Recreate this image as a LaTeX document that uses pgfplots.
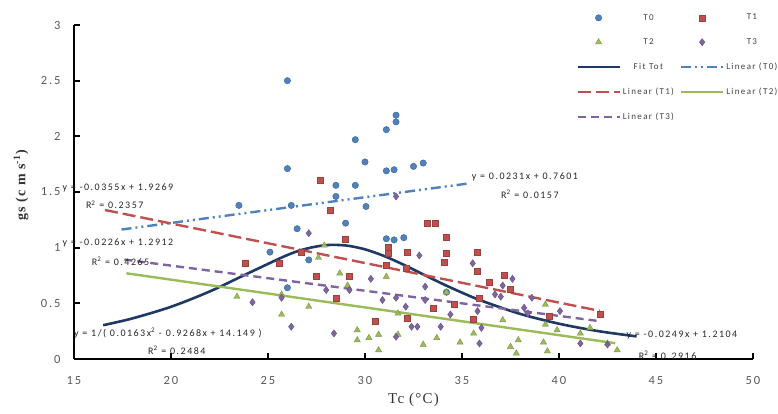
\documentclass[border=0pt]{standalone}
\usepackage{pgfplots}
\pgfplotsset{compat=1.18}
\usepackage{fontspec}
\setmainfont{Liberation Serif}
\newfontfamily\cf[LetterSpace=15]{Carlito}
\newfontfamily\lsf[LetterSpace=8]{Liberation Serif}
\definecolor{cT0}{HTML}{4F81BD}
\definecolor{cT1}{HTML}{C0504D}
\definecolor{cT2}{HTML}{9BBB59}
\definecolor{cT3}{HTML}{8064A2}
\definecolor{cFit}{HTML}{1F3864}
\definecolor{tickgray}{HTML}{595959}
\begin{document}
\begin{tikzpicture}
\path[use as bounding box] (-74pt,-54pt) rectangle (704pt,359pt);
\begin{axis}[
  at={(0,0)}, anchor=south west, scale only axis, width=679pt, height=334pt,
  xmin=15, xmax=50, ymin=0, ymax=3,
  xtick={15,20,...,50}, ytick={0,0.5,...,3},
  axis x line*=bottom, axis y line*=left,
  axis line style={line width=1.8pt, black, -},
  tick style={line width=1.8pt, black}, major tick length=6pt, tick align=inside,
  /pgf/number format/assume math mode=true,
  tick label style={font=\fontsize{12.5}{14}\cf, text=tickgray},
  xticklabel style={yshift=-14pt},
  yticklabel style={xshift=-10pt},
  xlabel={Tc (°C)},
  ylabel={\bfseries gs (c m s\textsuperscript{-1})},
  xlabel style={font=\fontsize{15}{17}\lsf, text=black!80, at={(axis description cs:0.5,-0.123)}, anchor=center},
  ylabel style={font=\fontsize{14}{16}\lsf, text=black!80, at={(axis description cs:-0.078,0.52)}, anchor=center},
  clip=false,
  legend columns=2,
  legend style={at={(axis description cs:0.735,1.045)}, anchor=north west, draw=none, fill=none,
    font=\fontsize{9}{10}\cf, text=black!75, row sep=13pt,
    /tikz/every even column/.append style={column sep=4pt}},
  legend image code/.code={\draw[mark repeat=2,mark phase=2,#1] plot coordinates {(0pt,0pt) (21pt,0pt) (42pt,0pt)};},
]
% T0
\addplot[only marks, mark=*, mark size=3.2pt, draw=cT0!75!black, fill=cT0] coordinates {
(23.5,1.38) (26.0,2.50) (26.0,1.71) (26.2,1.38) (26.0,0.64) (25.1,0.96) (26.5,1.17) (27.1,0.89)
(28.5,1.56) (28.5,1.46) (29.0,1.22) (29.5,1.97) (29.5,1.56) (30.0,1.77) (30.05,1.37) (31.1,2.06)
(31.6,2.19) (31.6,2.13) (31.1,1.69) (31.5,1.70) (32.5,1.73) (33.0,1.76) (31.1,1.08) (31.5,1.07)
(32.0,1.09) (34.2,0.60)};
\addlegendentry{T0}
% T1
\addplot[only marks, mark=square*, mark size=3pt, draw=cT1!80!black, fill=cT1] coordinates {
(27.7,1.61) (28.2,1.34) (29.0,1.08) (26.7,0.96) (25.6,0.86) (23.8,0.86) (27.5,0.74) (28.5,0.55)
(33.2,1.22) (33.6,1.22) (31.2,1.00) (31.2,0.95) (32.2,0.96) (34.2,1.09) (34.2,0.95) (34.1,0.87)
(29.2,0.74) (31.1,0.84) (32.1,0.82) (33.5,0.46) (32.2,0.37) (30.5,0.34) (34.6,0.49) (35.8,0.96)
(35.8,0.79) (37.2,0.75) (36.4,0.69) (35.9,0.55) (35.6,0.36) (39.5,0.38) (42.1,0.40) (37.5,0.63)};
\addlegendentry{T1}
% T2
\addplot[only marks, mark=triangle*, mark size=3.6pt, draw=cT2!80!black, fill=cT2] coordinates {
(23.4,0.56) (25.7,0.58) (25.7,0.40) (27.1,0.47) (27.9,1.02) (27.6,0.91) (28.7,0.77) (31.1,0.74)
(29.1,0.66) (29.6,0.26) (29.6,0.17) (30.2,0.19) (30.7,0.22) (30.7,0.08) (31.7,0.22) (31.7,0.41)
(33.0,0.13) (33.7,0.19) (34.9,0.15) (34.2,0.60) (35.6,0.23) (37.1,0.35) (37.9,0.17) (37.8,0.05)
(37.5,0.11) (39.3,0.49) (39.3,0.31) (39.2,0.15) (39.4,0.07) (39.9,0.26) (41.1,0.23) (41.6,0.28)
(42.5,0.14) (43.0,0.08)};
\addlegendentry{T2}
% T3
\addplot[only marks, mark=diamond*, mark size=3.6pt, draw=cT3!80!black, fill=cT3] coordinates {
(27.1,1.13) (24.2,0.51) (25.7,0.55) (26.2,0.29) (28.4,0.23) (28.0,0.62) (31.6,1.46) (32.8,0.93)
(30.3,0.72) (30.9,0.53) (31.6,0.55) (32.1,0.47) (32.4,0.29) (32.7,0.29) (31.6,0.20) (33.1,0.65)
(33.9,0.29) (34.4,0.40) (35.55,0.86) (37.1,0.66) (37.6,0.72) (36.7,0.58) (37.0,0.56) (35.8,0.43)
(36.0,0.28) (35.9,0.14) (38.2,0.46) (38.6,0.55) (38.4,0.41) (40.05,0.43) (41.1,0.14) (42.5,0.13)
(33.1,0.53) (29.2,0.62)};
\addlegendentry{T3}
% Fit Tot
\addplot[cFit, line width=2.6pt, smooth] coordinates {
(16.5,0.3035) (18,0.364) (20,0.469) (22,0.607) (24,0.772) (26,0.934) (27,0.992) (28,1.023)
(29,1.020) (30,0.985) (31,0.924) (32,0.846) (33,0.760) (34,0.675) (35,0.596) (36,0.524)
(38,0.405) (40,0.317) (42,0.251) (44,0.203)};
\addlegendentry{Fit Tot}
% Linear T0
\addplot[cT0, line width=2.4pt, dash pattern=on 10pt off 4pt on 2pt off 4pt on 2pt off 4pt] coordinates {(17.45,1.163) (35.4,1.578)};
\addlegendentry{Linear (T0)}
% Linear T1
\addplot[cT1, line width=2.4pt, dash pattern=on 13pt off 5pt] coordinates {(16.6,1.338) (42.1,0.432)};
\addlegendentry{Linear (T1)}
% Linear T2
\addplot[cT2, line width=2.4pt] coordinates {(17.7,0.770) (42.9,0.142)};
\addlegendentry{Linear (T2)}
% Linear T3
\addplot[cT3, line width=2.4pt, dash pattern=on 8pt off 5pt] coordinates {(17.6,0.893) (42.0,0.342)};
\addlegendentry{Linear (T3)}
% annotations
\begin{scope}[every node/.style={font=\fontsize{10}{12}\cf, text=black!85, inner sep=0pt}]
\node[anchor=west] at (axis cs:14.4,1.54) {y = -0.0355x + 1.9269};
\node at (axis cs:17.1,1.385) {R\textsuperscript{2} = 0.2357};
\node[anchor=west] at (axis cs:14.4,1.04) {y = -0.0226x + 1.2912};
\node at (axis cs:17.4,0.88) {R\textsuperscript{2} = 0.4265};
\node[anchor=west] at (axis cs:35.5,1.635) {y = 0.0231x + 0.7601};
\node at (axis cs:38.5,1.48) {R\textsuperscript{2} = 0.0157};
\node[anchor=west] at (axis cs:15.0,0.235) {y = 1/( 0.0163x\textsuperscript{2} - 0.9268x + 14.149 )};
\node at (axis cs:20.3,0.08) {R\textsuperscript{2} = 0.2484};
\node[anchor=east] at (axis cs:49.2,0.215) {y = -0.0249x + 1.2104};
\node at (axis cs:45.6,0.036) {R\textsuperscript{2} = 0.2916};
\end{scope}
\end{axis}
\end{tikzpicture}
\end{document}
